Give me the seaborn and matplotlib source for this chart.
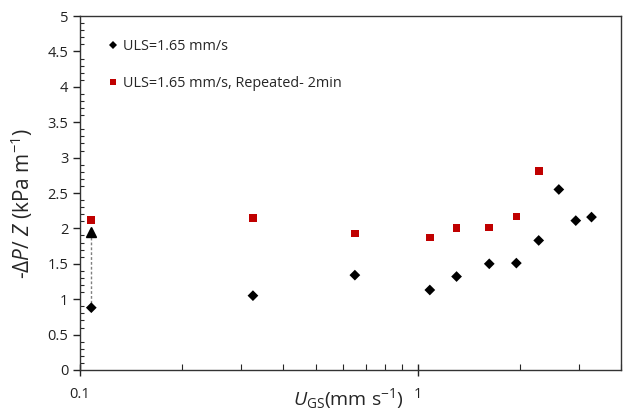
import numpy as np
import pandas as pd
import seaborn as sns
import matplotlib.pyplot as plt
from matplotlib.ticker import FixedLocator, LogLocator, MultipleLocator, FuncFormatter, NullFormatter

# first run, ULS = 1.65 mm/s
ugs_first = [0.108, 0.325, 0.651, 1.085, 1.302, 1.627, 1.957, 2.279, 2.614, 2.934, 3.266]
dp_first = [0.88, 1.05, 1.34, 1.13, 1.32, 1.50, 1.51, 1.83, 2.55, 2.11, 2.16]

# repeated run after 2 min
ugs_rep = [0.108, 0.325, 0.651, 1.085, 1.302, 1.627, 1.957, 2.279]
dp_rep = [2.12, 2.15, 1.93, 1.87, 2.01, 2.015, 2.17, 2.815]

# dashed arrow at the lowest gas velocity
arrow_x = [0.108, 0.108]
arrow_y = [0.88, 1.95]

lab_first = 'ULS=1.65 mm/s'
lab_rep = 'ULS=1.65 mm/s, Repeated- 2min'

df = pd.concat([
    pd.DataFrame({'ugs': ugs_first, 'dp': dp_first, 'run': lab_first}),
    pd.DataFrame({'ugs': ugs_rep, 'dp': dp_rep, 'run': lab_rep}),
])

sns.set_style('ticks')
plt.rcParams['font.family'] = ['Open Sans', 'DejaVu Sans']
plt.rcParams['mathtext.fontset'] = 'custom'
plt.rcParams['mathtext.rm'] = 'Open Sans'
plt.rcParams['mathtext.it'] = 'Open Sans:italic'

fig = plt.figure(figsize=(6.25, 4.12), dpi=100)
ax = fig.add_axes([0.128, 0.102, 0.866, 0.859])

ax.plot(arrow_x, arrow_y, ls=(0, (2, 1.5)), color='#808080', lw=1, zorder=1)
ax.plot(arrow_x[-1:], arrow_y[-1:], marker='^', ms=7, color='black', ls='none', zorder=3)

sns.scatterplot(data=df, x='ugs', y='dp', hue='run', style='run',
                palette={lab_first: 'black', lab_rep: '#C00000'},
                markers={lab_first: 'D', lab_rep: 's'},
                s=30, linewidth=0, ax=ax, zorder=2)

ax.set_xscale('log')
ax.set_xlim(0.1, 4.0)
ax.set_ylim(0, 5)
ax.xaxis.set_major_locator(FixedLocator([0.1, 1]))
ax.xaxis.set_major_formatter(FuncFormatter(lambda v, p: '%g' % v))
ax.xaxis.set_minor_locator(LogLocator(base=10, subs=np.arange(2, 10)))
ax.xaxis.set_minor_formatter(NullFormatter())
ax.yaxis.set_major_locator(MultipleLocator(0.5))
ax.yaxis.set_minor_locator(MultipleLocator(0.1))
ax.yaxis.set_major_formatter(FuncFormatter(lambda v, p: '%g' % v))

ax.tick_params(axis='x', which='major', direction='inout', length=8, width=1, pad=8, labelsize=10.5, colors='#222222')
ax.tick_params(axis='x', which='minor', direction='in', length=4, width=0.8)
ax.tick_params(axis='y', which='major', direction='out', length=5, width=1, labelsize=10.5, colors='#222222')
ax.tick_params(axis='y', which='minor', direction='in', length=3, width=0.8)
for sp in ax.spines.values():
    sp.set_visible(True)
    sp.set_color('#333333')
    sp.set_linewidth(1)

ax.set_xlabel(r'$U_{\mathrm{GS}}$(mm s$^{-1}$)', fontsize=14)
ax.xaxis.set_label_coords(0.496, -0.045)
ax.set_ylabel(r'-$\Delta P$/ $Z$ (kPa m$^{-1}$)', fontsize=15)
ax.yaxis.set_label_coords(-0.083, 0.472)

ax.legend(loc='upper left', bbox_to_anchor=(0.05, 0.936), frameon=False,
          fontsize=10.4, labelspacing=1.55, handlelength=0.8, handletextpad=0.3,
          borderaxespad=0, borderpad=0, markerscale=0.8)

fig.savefig('out.png', dpi=100)
